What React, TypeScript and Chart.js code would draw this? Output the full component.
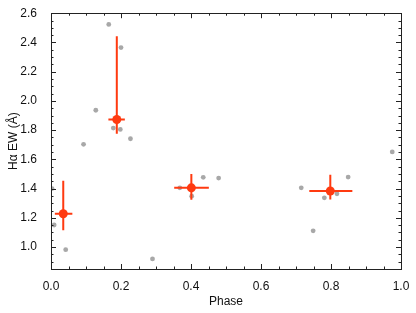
import React, { useEffect, useRef } from "react";
import { Chart, registerables } from "chart.js";

Chart.register(...registerables);

// Individual measurements (gray)
const grayPhase = [0.003, 0.009, 0.042, 0.093, 0.128, 0.165, 0.178, 0.198, 0.2, 0.227, 0.29, 0.368, 0.402, 0.435, 0.479, 0.715, 0.749, 0.781, 0.817, 0.849, 0.975];
const grayEW = [1.40, 1.151, 0.982, 1.703, 1.936, 2.523, 1.814, 1.805, 2.365, 1.741, 0.919, 1.405, 1.348, 1.477, 1.472, 1.405, 1.111, 1.337, 1.364, 1.479, 1.651];

// Binned means (red) with error bars
const binPhase = [0.035, 0.188, 0.401, 0.798];
const binEW = [1.228, 1.873, 1.405, 1.384];
const binPhaseLo = [0.011, 0.164, 0.352, 0.738];
const binPhaseHi = [0.061, 0.211, 0.451, 0.861];
const binEWLo = [1.115, 1.775, 1.323, 1.325];
const binEWHi = [1.454, 2.442, 1.5, 1.495];

const xTicks = [0.0, 0.2, 0.4, 0.6, 0.8, 1.0];
const yTicks = [1.0, 1.2, 1.4, 1.6, 1.8, 2.0, 2.2, 2.4, 2.6];
const xMin = 0, xMax = 1, yMin = 0.85, yMax = 2.6;

const RED = "#ff3a10";
const GRAY = "#a8a8a8";
const FONT = "'Liberation Sans', Arial, Helvetica, sans-serif";

export default function App() {
  const ref = useRef<HTMLCanvasElement | null>(null);
  useEffect(() => {
    document.body.style.margin = "0";
    const canvas = ref.current!;
    const errorBars = {
      id: "errorBars",
      afterDatasetDraw(chart: any, args: any) {
        if (args.index !== 1) return;
        const ctx = chart.ctx;
        const xs = chart.scales.x, ys = chart.scales.y;
        ctx.save();
        ctx.strokeStyle = RED;
        ctx.lineWidth = 2;
        for (let i = 0; i < binPhase.length; i++) {
          const px = xs.getPixelForValue(binPhase[i]);
          const py = ys.getPixelForValue(binEW[i]);
          ctx.beginPath();
          ctx.moveTo(xs.getPixelForValue(binPhaseLo[i]), py);
          ctx.lineTo(xs.getPixelForValue(binPhaseHi[i]), py);
          ctx.moveTo(px, ys.getPixelForValue(binEWLo[i]));
          ctx.lineTo(px, ys.getPixelForValue(binEWHi[i]));
          ctx.stroke();
        }
        ctx.restore();
      },
    };
    const frame = {
      id: "frame",
      afterDraw(chart: any) {
        const ctx = chart.ctx;
        const { left, right, top, bottom } = chart.chartArea;
        const xs = chart.scales.x, ys = chart.scales.y;
        ctx.save();
        ctx.strokeStyle = "#222";
        ctx.lineWidth = 1;
        ctx.strokeRect(Math.round(left) + 0.5, Math.round(top) + 0.5, Math.round(right - left), Math.round(bottom - top));
        ctx.beginPath();
        for (let k = 0; k <= 20; k++) {
          const v = xMin + k * 0.05;
          const len = k % 4 === 0 ? 5 : 2.5;
          const px = Math.round(xs.getPixelForValue(v)) + 0.5;
          ctx.moveTo(px, bottom); ctx.lineTo(px, bottom - len);
          ctx.moveTo(px, top); ctx.lineTo(px, top + len);
        }
        for (let k = 0; k <= 40; k++) {
          const v = 0.8 + k * 0.05;
          if (v < yMin - 1e-9 || v > yMax + 1e-9) continue;
          const major = Math.abs(v * 5 - Math.round(v * 5)) < 1e-6;
          const len = major ? 5 : 2.5;
          const py = Math.round(ys.getPixelForValue(v)) + 0.5;
          ctx.moveTo(left, py); ctx.lineTo(left + len, py);
          ctx.moveTo(right, py); ctx.lineTo(right - len, py);
        }
        ctx.stroke();
        ctx.restore();
      },
    };
    const chart = new Chart(canvas, {
      type: "scatter",
      data: {
        datasets: [
          {
            data: binPhase.map((x, i) => ({ x, y: binEW[i] })),
            backgroundColor: RED,
            borderColor: RED,
            pointRadius: 4.5,
            borderWidth: 0,
          },
          {
            data: grayPhase.map((x, i) => ({ x, y: grayEW[i] })),
            backgroundColor: GRAY,
            borderColor: GRAY,
            pointRadius: 2.4,
            borderWidth: 0,
          },
        ],
      },
      options: {
        animation: false,
        responsive: false,
        layout: { padding: { left: 0, right: 15, top: 11, bottom: 0 } },
        plugins: { legend: { display: false }, tooltip: { enabled: false } },
        scales: {
          x: {
            type: "linear",
            min: xMin,
            max: xMax,
            grid: { display: false },
            border: { display: false },
            afterBuildTicks: (s: any) => { s.ticks = xTicks.map((v) => ({ value: v })); },
            afterFit: (s: any) => { s.height = 44; },
            ticks: {
              color: "#111",
              font: { family: FONT, size: 12 },
              padding: 2,
              maxRotation: 0,
              callback: (v: any) => Number(v).toFixed(1),
            },
            title: {
              display: true,
              text: "Phase",
              color: "#111",
              font: { family: FONT, size: 12 },
              padding: { top: 4, bottom: 4 },
            },
          },
          y: {
            type: "linear",
            min: yMin,
            max: yMax,
            grid: { display: false },
            border: { display: false },
            afterBuildTicks: (s: any) => { s.ticks = yTicks.map((v) => ({ value: v })); },
            afterFit: (s: any) => { s.width = 51; },
            ticks: {
              color: "#111",
              font: { family: FONT, size: 12 },
              padding: 6,
              callback: (v: any) => Number(v).toFixed(1),
            },
            title: {
              display: true,
              text: "Hα EW (Å)",
              color: "#111",
              font: { family: FONT, size: 12 },
              padding: { top: 6, bottom: 6 },
            },
          },
        },
      },
      plugins: [errorBars, frame],
    } as any);
    return () => chart.destroy();
  }, []);
  return <canvas ref={ref} width={416} height={313} style={{ display: "block" }} />;
}
